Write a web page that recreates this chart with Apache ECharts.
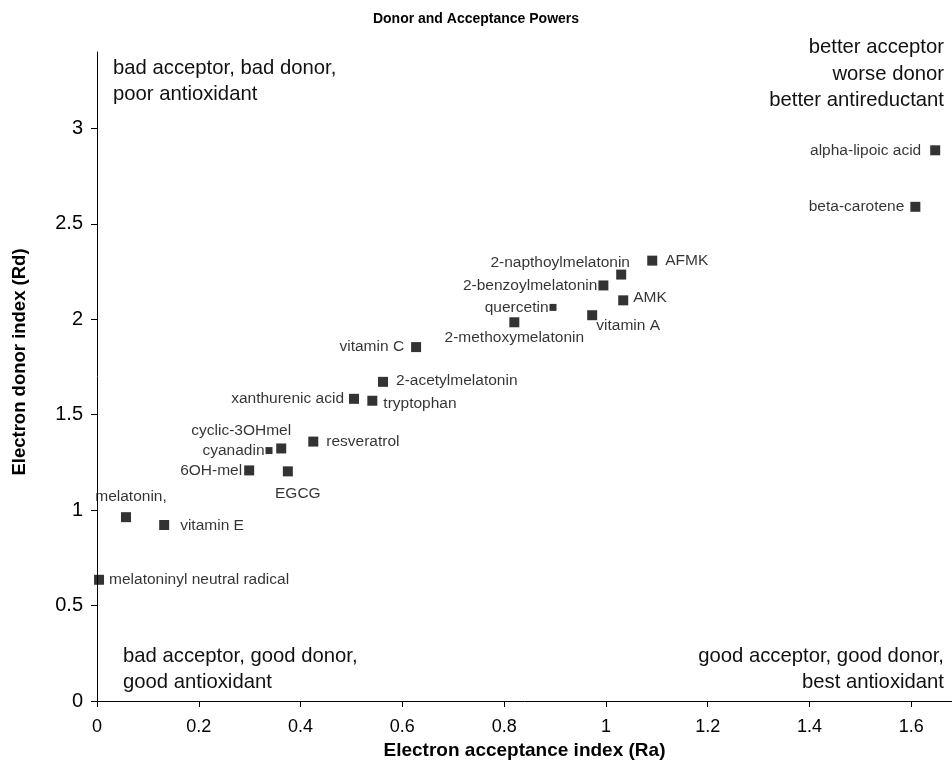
<!DOCTYPE html>
<html>
<head>
<meta charset="utf-8">
<script src="https://cdn.jsdelivr.net/npm/echarts@6/dist/echarts.min.js"></script>
<style>html,body{margin:0;padding:0;background:#fff;overflow:hidden;}#c{width:952px;height:765px;}</style>
</head>
<body>
<div id="c"></div>
<script>
const names = ["melatoninyl neutral radical","melatonin,","vitamin E","6OH-mel","EGCG","cyanadin","cyclic-3OHmel","resveratrol","xanthurenic acid","tryptophan","2-acetylmelatonin","vitamin C","2-methoxymelatonin","quercetin","vitamin A","2-benzoylmelatonin","2-napthoylmelatonin","AMK","AFMK","beta-carotene","alpha-lipoic acid"];
const acceptance = [0.004,0.057,0.132,0.299,0.375,0.338,0.362,0.425,0.505,0.541,0.562,0.627,0.820,0.896,0.973,0.995,1.030,1.034,1.091,1.608,1.647];
const donor = [0.635,0.963,0.922,1.208,1.203,1.312,1.323,1.359,1.583,1.573,1.672,1.854,1.984,2.062,2.021,2.177,2.234,2.099,2.307,2.589,2.885];
const xTicks = [0,0.2,0.4,0.6,0.8,1,1.2,1.4,1.6];
const yTicks = [0,0.5,1,1.5,2,2.5,3];

const FONT = '"Liberation Sans", Arial, sans-serif';
// label placement per point (styles, kept separate from data)
const labelCfg = {
  "melatoninyl neutral radical": {position:'right', offset:[0,0]},
  "melatonin,": {position:'top', offset:[5,-2]},
  "vitamin E": {position:'right', offset:[6,1]},
  "6OH-mel": {position:'left', offset:[3,0]},
  "EGCG": {position:'bottom', offset:[10,4]},
  "cyanadin": {position:'left', offset:[4,0]},
  "cyclic-3OHmel": {position:'top', offset:[-40,0]},
  "resveratrol": {position:'right', offset:[3,0]},
  "xanthurenic acid": {position:'left', offset:[0,0]},
  "tryptophan": {position:'right', offset:[1,3]},
  "2-acetylmelatonin": {position:'right', offset:[3,-1]},
  "vitamin C": {position:'left', offset:[-2,0]},
  "2-methoxymelatonin": {position:'bottom', offset:[0,-3]},
  "quercetin": {position:'left', offset:[4,0]},
  "vitamin A": {position:'bottom', offset:[36,-8]},
  "2-benzoylmelatonin": {position:'left', offset:[4,0]},
  "2-napthoylmelatonin": {position:'top', offset:[-61,6]},
  "AMK": {position:'right', offset:[0,-3]},
  "AFMK": {position:'right', offset:[3,0]},
  "beta-carotene": {position:'left', offset:[-1,0]},
  "alpha-lipoic acid": {position:'left', offset:[-4,0]}
};
const smallPts = {"cyanadin":true, "quercetin":true};

const data = names.map((n,i) => ({
  name: n,
  value: [acceptance[i], donor[i]],
  symbolSize: smallPts[n] ? 7 : 10,
  label: Object.assign({show:true, formatter:n, color:'#000', fontSize:15.5, fontFamily:FONT, distance:5}, labelCfg[n])
}));

const chart = echarts.init(document.getElementById('c'), null, {renderer:'canvas', width:952, height:765});
const qs = {fontSize:20.3, fontFamily:FONT, fill:'#111'};
function qt(x, y, text, align){ return {type:'text', x:x, y:y, style:Object.assign({text:text, align:align, verticalAlign:'middle'}, qs)}; }
chart.setOption({
  animation:false,
  backgroundColor:'#fff',
  title:{text:'Donor and Acceptance Powers', left:'center', top:7,
    textStyle:{fontSize:14, fontWeight:'bold', fontFamily:FONT, color:'#000'}},
  grid:{left:97, top:52, width:855, height:653, containLabel:false},
  xAxis:{
    type:'value', min:0, max:1.68,
    name:'Electron acceptance index (Ra)', nameLocation:'middle', nameGap:40,
    nameTextStyle:{fontSize:19, fontWeight:'bold', fontFamily:FONT, color:'#000'},
    axisLine:{show:true, onZero:false, lineStyle:{color:'#000', width:1}},
    axisTick:{show:true, inside:false, length:6, customValues:xTicks, lineStyle:{color:'#000'}},
    axisLabel:{fontSize:18, fontFamily:FONT, color:'#000', margin:17, customValues:xTicks,
      formatter:v => String(+(+v).toFixed(1))},
    splitLine:{show:false}
  },
  yAxis:{
    type:'value', min:0, max:3.4,
    axisLine:{show:true, onZero:false, lineStyle:{color:'#000', width:1}},
    axisTick:{show:true, inside:false, length:6, customValues:yTicks, lineStyle:{color:'#000'}},
    axisLabel:{fontSize:20, fontFamily:FONT, color:'#000', margin:14, customValues:yTicks,
      formatter:v => String(+(+v).toFixed(1))},
    splitLine:{show:false}
  },
  graphic:[
    {type:'text', x:20, y:362, rotation:Math.PI/2,
      style:{text:'Electron donor index (Rd)', align:'center', verticalAlign:'middle',
        fontSize:18.5, fontWeight:'bold', fontFamily:FONT, fill:'#000'}},
    qt(113, 68, 'bad acceptor, bad donor,', 'left'),
    qt(113, 94, 'poor antioxidant', 'left'),
    qt(944, 47, 'better acceptor', 'right'),
    qt(944, 74, 'worse donor', 'right'),
    qt(944, 100, 'better antireductant', 'right'),
    qt(123, 656, 'bad acceptor, good donor,', 'left'),
    qt(123, 682, 'good antioxidant', 'left'),
    qt(944, 656, 'good acceptor, good donor,', 'right'),
    qt(944, 682, 'best antioxidant', 'right')
  ],
  series:[{
    type:'scatter',
    symbol:'rect',
    itemStyle:{color:'#000'},
    data:data,
    clip:false
  }]
});
</script>
</body>
</html>
